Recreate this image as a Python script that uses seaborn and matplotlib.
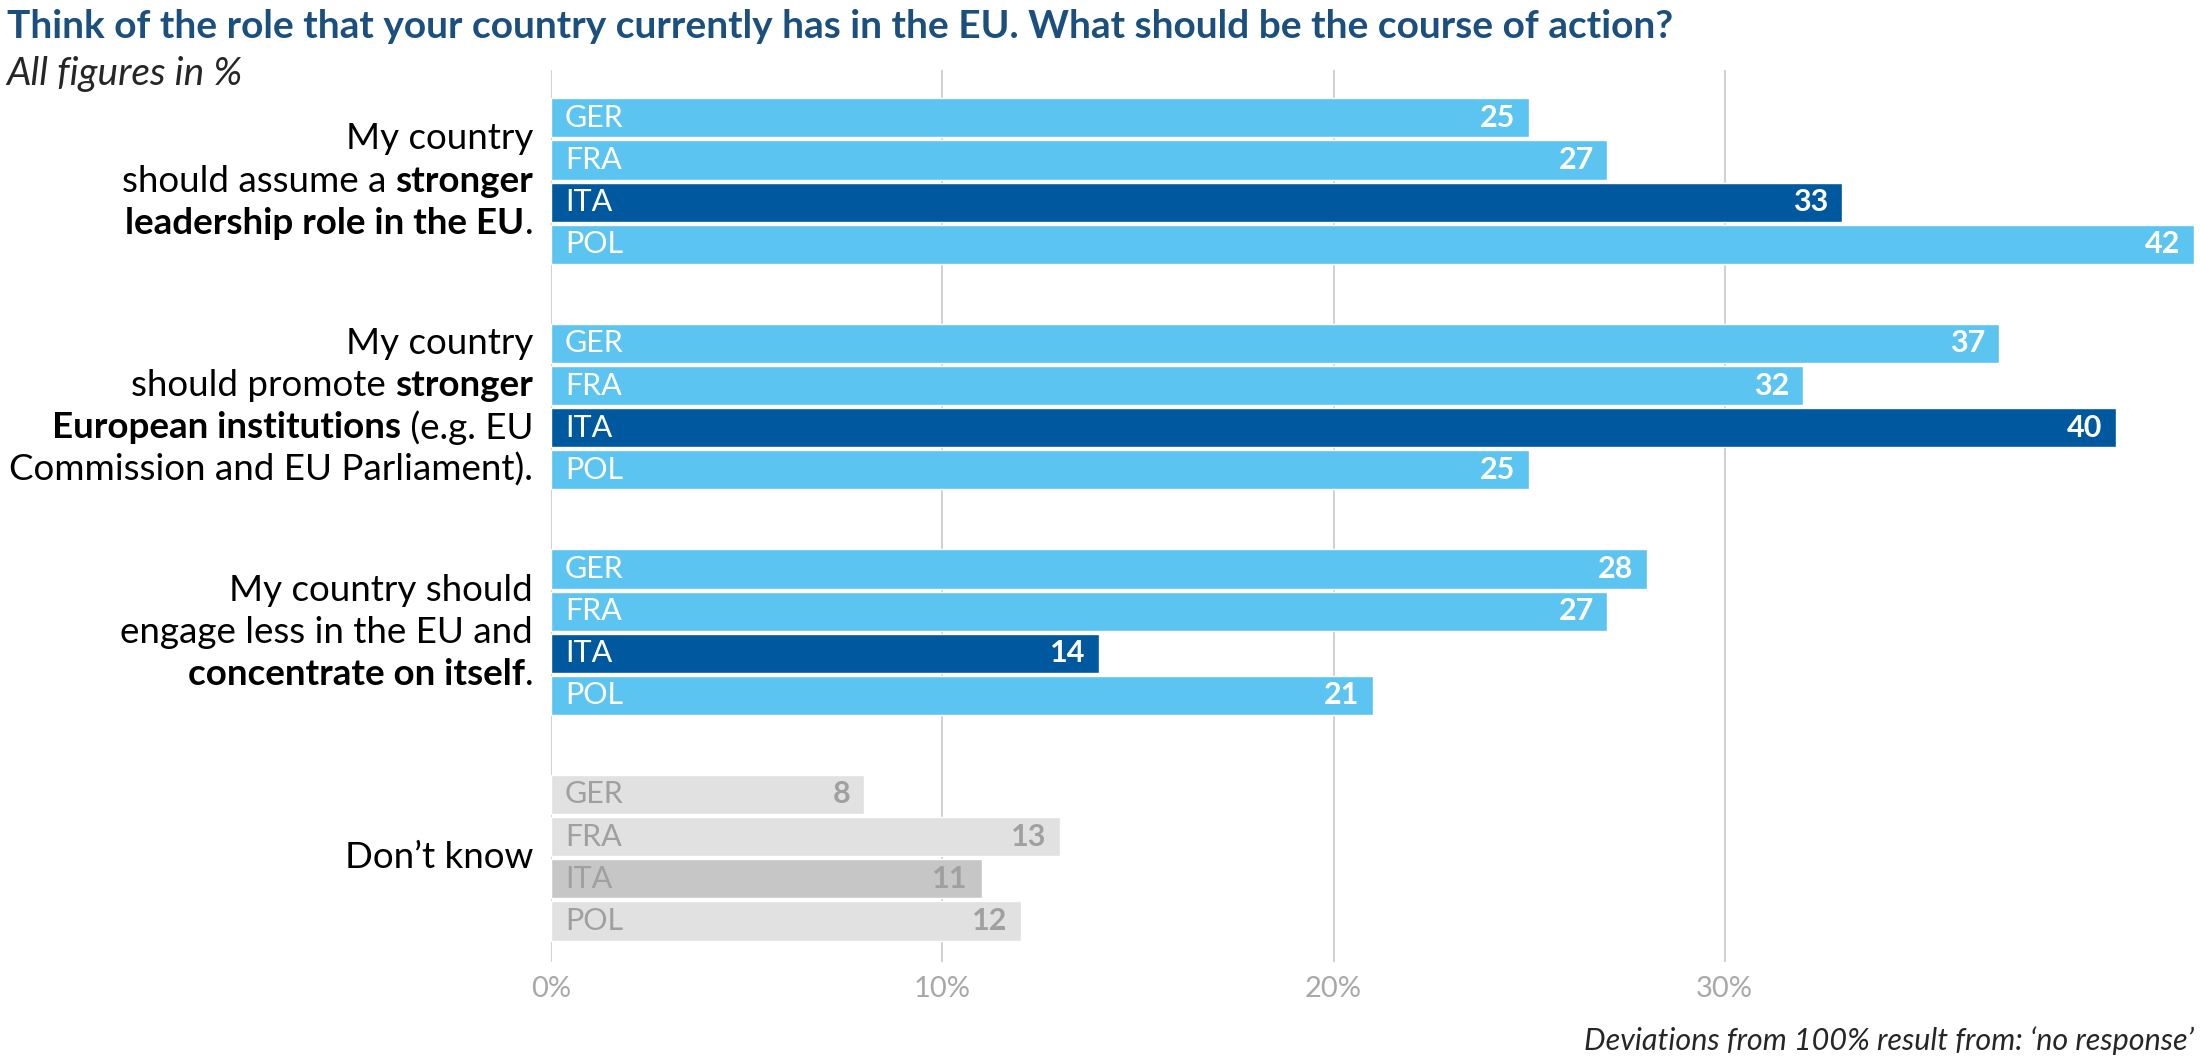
import numpy as np
import pandas as pd
import matplotlib
matplotlib.use("Agg")
import matplotlib.pyplot as plt
import seaborn as sns

countries = ["GER", "FRA", "ITA", "POL"]
leadership = [25, 27, 33, 42]
institutions = [37, 32, 40, 25]
engage_less = [28, 27, 14, 21]
dont_know = [8, 13, 11, 12]
group_values = [leadership, institutions, engage_less, dont_know]

group_labels = [
    [[("My country", False)],
     [("should assume a ", False), ("stronger", True)],
     [("leadership role in the EU", True), (".", False)]],
    [[("My country", False)],
     [("should promote ", False), ("stronger", True)],
     [("European institutions", True), (" (e.g. EU", False)],
     [("Commission and EU Parliament).", False)]],
    [[("My country should", False)],
     [("engage less in the EU and", False)],
     [("concentrate on itself", True), (".", False)]],
    [[("Don\u2019t know", False)]],
]
xticks = [0, 10, 20, 30]
xtick_labels = ["0%", "10%", "20%", "30%"]

LIGHT, DARK = "#5BC4F1", "#00589F"
GRAY, GRAY_DARK = "#E1E1E1", "#C6C6C6"
GAP = 5.35

rows = []
for g, vals in enumerate(group_values):
    for i, (c, v) in enumerate(zip(countries, vals)):
        if g == 3:
            color = GRAY_DARK if c == "ITA" else GRAY
        else:
            color = DARK if c == "ITA" else LIGHT
        rows.append({"pos": g * GAP + i, "value": v, "country": c,
                     "key": f"{g}-{c}", "color": color, "group": g})
df = pd.DataFrame(rows)

sns.set_style("white")
plt.rcParams["font.family"] = ["Lato", "DejaVu Sans"]

fig = plt.figure(figsize=(22, 10.64), dpi=100)
ax = fig.add_axes([0.2506, 0.096, 0.7485, 0.838])
sns.barplot(data=df, x="value", y="pos", hue="key", orient="h", native_scale=True,
            palette=dict(zip(df["key"], df["color"])), width=0.93, legend=False,
            dodge=False, ax=ax, saturation=1)
ax.set_xlim(0, 42.1)
ax.set_ylim(3 * GAP + 3 + 0.97, -1.13)
ax.set_yticks([])
ax.set_ylabel("")
ax.set_xlabel("")
for s in ax.spines.values():
    s.set_visible(False)
ax.set_xticks(xticks)
ax.set_xticklabels(xtick_labels, color="#A8A8A8", fontsize=21)
ax.tick_params(axis="x", length=0, pad=10)
ax.grid(axis="x", color="#C8C8C8", linewidth=1.2)
ax.set_axisbelow(True)

for _, r in df.iterrows():
    txtc = "#A0A0A0" if r["group"] == 3 else "white"
    ax.text(0.35, r["pos"], r["country"], va="center", ha="left",
            fontsize=22, color=txtc)
    ax.text(r["value"] - 0.35, r["pos"], str(r["value"]), va="center", ha="right",
            fontsize=22, fontweight="bold", color=txtc)

# group labels, right aligned, mixed bold
fig.canvas.draw()
renderer = fig.canvas.get_renderer()
x_right = 380 / 1568
for g, lines in enumerate(group_labels):
    center = g * GAP + 1.5
    n = len(lines)
    for li, segs in enumerate(lines):
        ypos = center + (li - (n - 1) / 2)
        ydisp = ax.transData.transform((0, ypos))[1]
        yfig = fig.transFigure.inverted().transform((0, ydisp))[1]
        x = x_right
        for text, bold in reversed(segs):
            t = fig.text(x, yfig, text, ha="right", va="center", fontsize=26.5,
                         fontweight="bold" if bold else "normal", color="black")
            w = t.get_window_extent(renderer).width / fig.bbox.width
            x -= w

fig.text(0.003, 0.975, "Think of the role that your country currently has in the EU. What should be the course of action?",
         fontsize=28, fontweight="bold", color="#1B4F7E", ha="left", va="center")
fig.text(0.003, 0.93, "All figures in %", fontsize=28, style="italic", ha="left", va="center")
fig.text(0.997, 0.022, "Deviations from 100% result from: \u2018no response\u2019",
         fontsize=22, style="italic", ha="right", va="center")

fig.savefig("out.png", dpi=100)
